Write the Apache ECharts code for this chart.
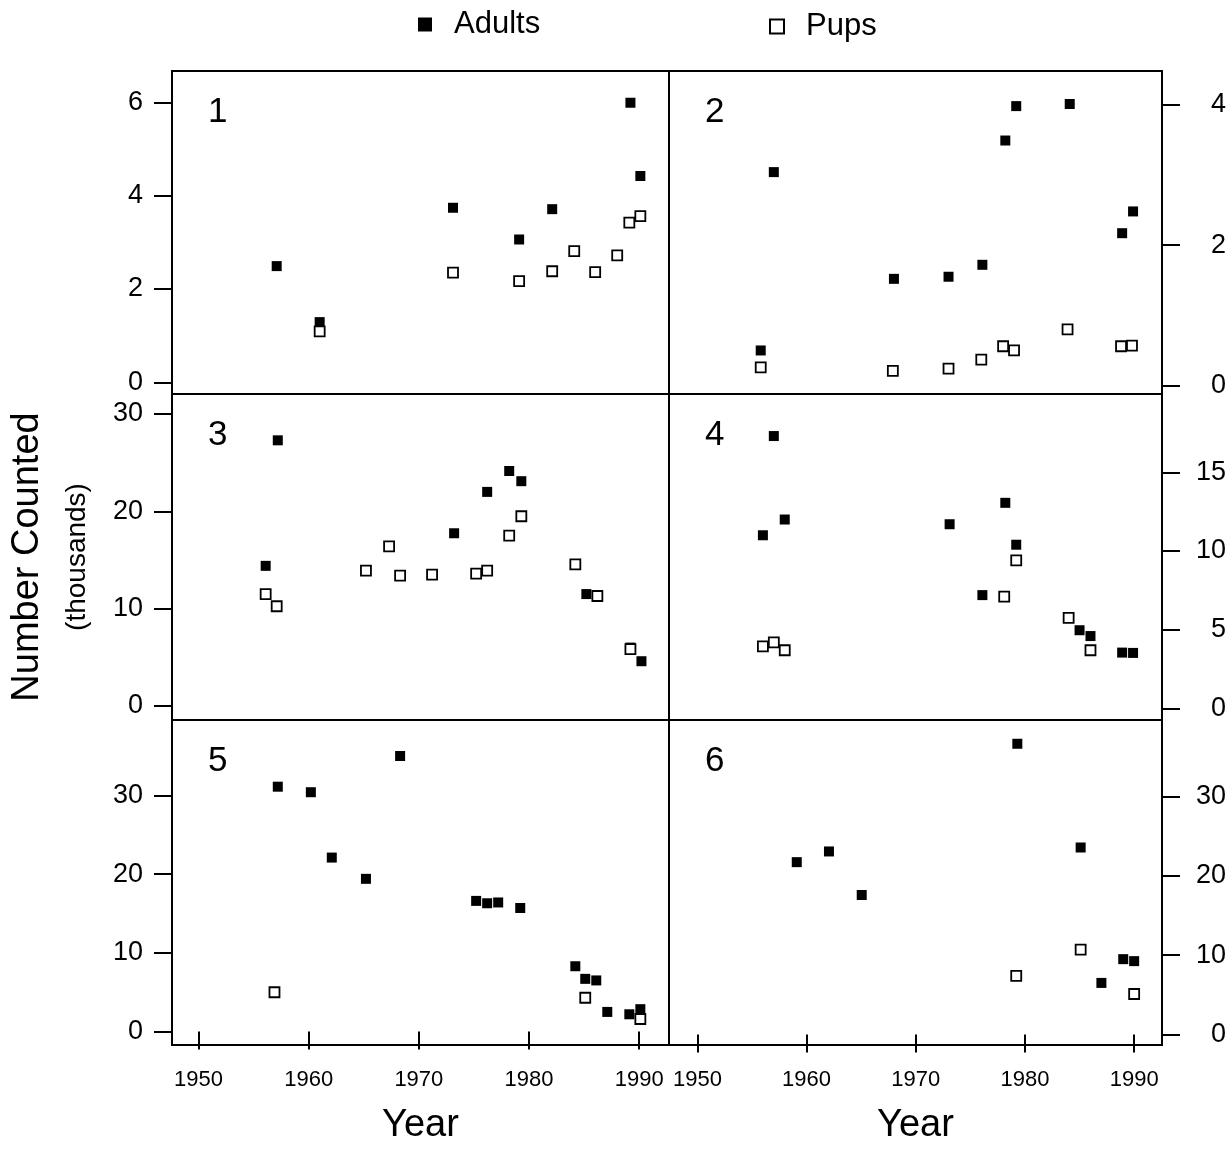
<!DOCTYPE html>
<html>
<head>
<meta charset="utf-8">
<script src="https://cdn.jsdelivr.net/npm/echarts@6/dist/echarts.min.js"></script>
<style>
  html, body { margin: 0; padding: 0; background: #fff; }
  #chart { width: 1232px; height: 1156px; }
</style>
</head>
<body>
<div id="chart"></div>
<script>
// counts in thousands: [year, value]
const adults1 = [[1957.1, 2.49], [1961.0, 1.29], [1973.1, 3.74], [1979.1, 3.06], [1982.1, 3.71], [1989.2, 5.99], [1990.1, 4.42]];
const pups1 = [[1961.0, 1.09], [1973.1, 2.35], [1979.1, 2.17], [1982.1, 2.38], [1984.1, 2.81], [1986.0, 2.36], [1988.0, 2.72], [1989.1, 3.42], [1990.1, 3.56]];

const adults2 = [[1955.8, 0.50], [1957.0, 3.04], [1968.0, 1.52], [1973.0, 1.55], [1976.1, 1.72], [1978.2, 3.49], [1979.2, 3.98], [1984.1, 4.01], [1988.9, 2.17], [1989.9, 2.48]];
const pups2 = [[1955.8, 0.26], [1967.9, 0.21], [1973.0, 0.24], [1976.0, 0.37], [1978.0, 0.56], [1979.0, 0.50], [1983.9, 0.80], [1988.8, 0.56], [1989.8, 0.57]];

const adults3 = [[1956.1, 14.4], [1957.2, 27.3], [1973.2, 17.75], [1976.2, 22.0], [1978.2, 24.15], [1979.3, 23.1], [1985.2, 11.5], [1989.2, 6.0], [1990.2, 4.6]];
const pups3 = [[1956.1, 11.5], [1957.1, 10.25], [1965.2, 13.9], [1967.3, 16.4], [1968.3, 13.4], [1971.2, 13.5], [1975.2, 13.6], [1976.2, 13.9], [1978.2, 17.5], [1979.3, 19.5], [1984.2, 14.55], [1986.2, 11.3], [1989.2, 5.85]];

const adults4 = [[1956.0, 11.0], [1957.0, 17.3], [1958.0, 12.0], [1973.1, 11.7], [1976.1, 7.2], [1978.2, 13.06], [1979.2, 10.4], [1985.0, 4.97], [1986.0, 4.6], [1988.9, 3.55], [1989.9, 3.53]];
const pups4 = [[1956.0, 3.95], [1957.0, 4.2], [1958.0, 3.7], [1978.1, 7.1], [1979.2, 9.4], [1984.0, 5.75], [1986.0, 3.7]];

const adults5 = [[1957.2, 31.1], [1960.2, 30.4], [1962.1, 22.1], [1965.2, 19.4], [1968.3, 35.0], [1975.2, 16.6], [1976.2, 16.3], [1977.2, 16.4], [1979.2, 15.7], [1984.2, 8.3], [1985.1, 6.7], [1986.1, 6.5], [1987.1, 2.5], [1989.1, 2.2], [1990.1, 2.85]];
const pups5 = [[1956.9, 5.0], [1985.1, 4.3], [1990.1, 1.6]];

const adults6 = [[1959.1, 21.75], [1962.05, 23.1], [1965.05, 17.6], [1979.3, 36.7], [1985.1, 23.6], [1987.0, 6.5], [1989.0, 9.5], [1990.0, 9.25]];
const pups6 = [[1979.2, 7.4], [1985.1, 10.7], [1990.0, 5.1]];

// axis ticks
const yearTicks = [1950, 1960, 1970, 1980, 1990];
const yTicks = [[0, 2, 4, 6], [0, 2, 4], [0, 10, 20, 30], [0, 5, 10, 15], [0, 10, 20, 30], [0, 10, 20, 30]];
const yRange = [[-0.25, 6.67], [-0.12, 4.48], [-1.44, 32.06], [-0.73, 19.97], [-1.7, 39.57], [-1.34, 39.7]];
const xRange = [[1947.6, 1992.7], [1947.4, 1992.55]]; // left column, right column
const panelLabels = ['1', '2', '3', '4', '5', '6'];

const adults = [adults1, adults2, adults3, adults4, adults5, adults6];
const pups = [pups1, pups2, pups3, pups4, pups5, pups6];

// layout (px)
const colX = [172, 669, 1162];
const rowY = [71, 394, 720, 1045];
const FONT = 'Liberation Sans, Arial, Helvetica, sans-serif';

const chart = echarts.init(document.getElementById('chart'), null, { renderer: 'canvas' });

const grids = [], xAxes = [], yAxes = [], series = [], graphics = [];

for (let i = 0; i < 6; i++) {
  const col = i % 2;
  const row = Math.floor(i / 2);
  const bottom = row === 2;

  grids.push({
    left: colX[col], top: rowY[row],
    width: colX[col + 1] - colX[col], height: rowY[row + 1] - rowY[row],
    show: true, borderColor: '#000', borderWidth: 2, backgroundColor: 'transparent',
    outerBoundsMode: 'none'
  });

  xAxes.push({
    type: 'value', gridIndex: i,
    min: xRange[col][0], max: xRange[col][1],
    show: bottom,
    axisLine: { show: false },
    splitLine: { show: false },
    axisTick: { show: true, length: 18, customValues: yearTicks, lineStyle: { color: '#000', width: 2 } },
    axisLabel: {
      customValues: yearTicks, fontSize: 22, margin: 24, color: '#000', fontFamily: FONT,
      formatter: v => String(v)  // no thousands separator
    },
    name: 'Year', nameLocation: 'middle', nameGap: 62,
    nameTextStyle: { fontSize: 38, color: '#000', fontFamily: FONT }
  });

  yAxes.push({
    type: 'value', gridIndex: i,
    position: col === 0 ? 'left' : 'right',
    min: yRange[i][0], max: yRange[i][1],
    axisLine: { show: false },
    splitLine: { show: false },
    axisTick: { show: true, length: 18, customValues: yTicks[i], lineStyle: { color: '#000', width: 2 } },
    axisLabel: {
      customValues: yTicks[i], fontSize: 27, color: '#000', fontFamily: FONT,
      margin: col === 0 ? 29 : 64, align: 'right'
    }
  });

  series.push({
    name: 'Adults', type: 'scatter', xAxisIndex: i, yAxisIndex: i,
    symbol: 'rect', symbolSize: 10,
    itemStyle: { color: '#000', opacity: 1 },
    data: adults[i]
  });
  series.push({
    name: 'Pups', type: 'scatter', xAxisIndex: i, yAxisIndex: i,
    symbol: 'rect', symbolSize: 10,
    itemStyle: { color: '#fff', borderColor: '#000', borderWidth: 1.8, opacity: 1 },
    data: pups[i]
  });

  // panel number in the upper left corner
  graphics.push({
    type: 'text', left: colX[col] + 36, top: rowY[row] + 24,
    style: { text: panelLabels[i], fontSize: 35, fill: '#000', fontFamily: FONT }
  });
}

// shared y title
graphics.push({
  type: 'text', x: 28, y: 557, rotation: Math.PI / 2,
  style: { text: 'Number Counted', fontSize: 38, fill: '#000', fontFamily: FONT, align: 'center', verticalAlign: 'middle' }
});
graphics.push({
  type: 'text', x: 77, y: 557, rotation: Math.PI / 2,
  style: { text: '(thousands)', fontSize: 28, fill: '#000', fontFamily: FONT, align: 'center', verticalAlign: 'middle' }
});

const legendText = { fontSize: 31, color: '#000', fontFamily: FONT, padding: [0, 0, 0, 17] };

const option = {
  animation: false,
  backgroundColor: '#fff',
  legend: [
    { data: ['Adults'], left: 418, top: 9, itemWidth: 14, itemHeight: 14, textStyle: legendText, padding: 0 },
    { data: ['Pups'], left: 769, top: 11, itemWidth: 14, itemHeight: 14, textStyle: legendText, padding: 0 }
  ],
  grid: grids,
  xAxis: xAxes,
  yAxis: yAxes,
  series: series,
  graphic: graphics
};

chart.setOption(option);
</script>
</body>
</html>
